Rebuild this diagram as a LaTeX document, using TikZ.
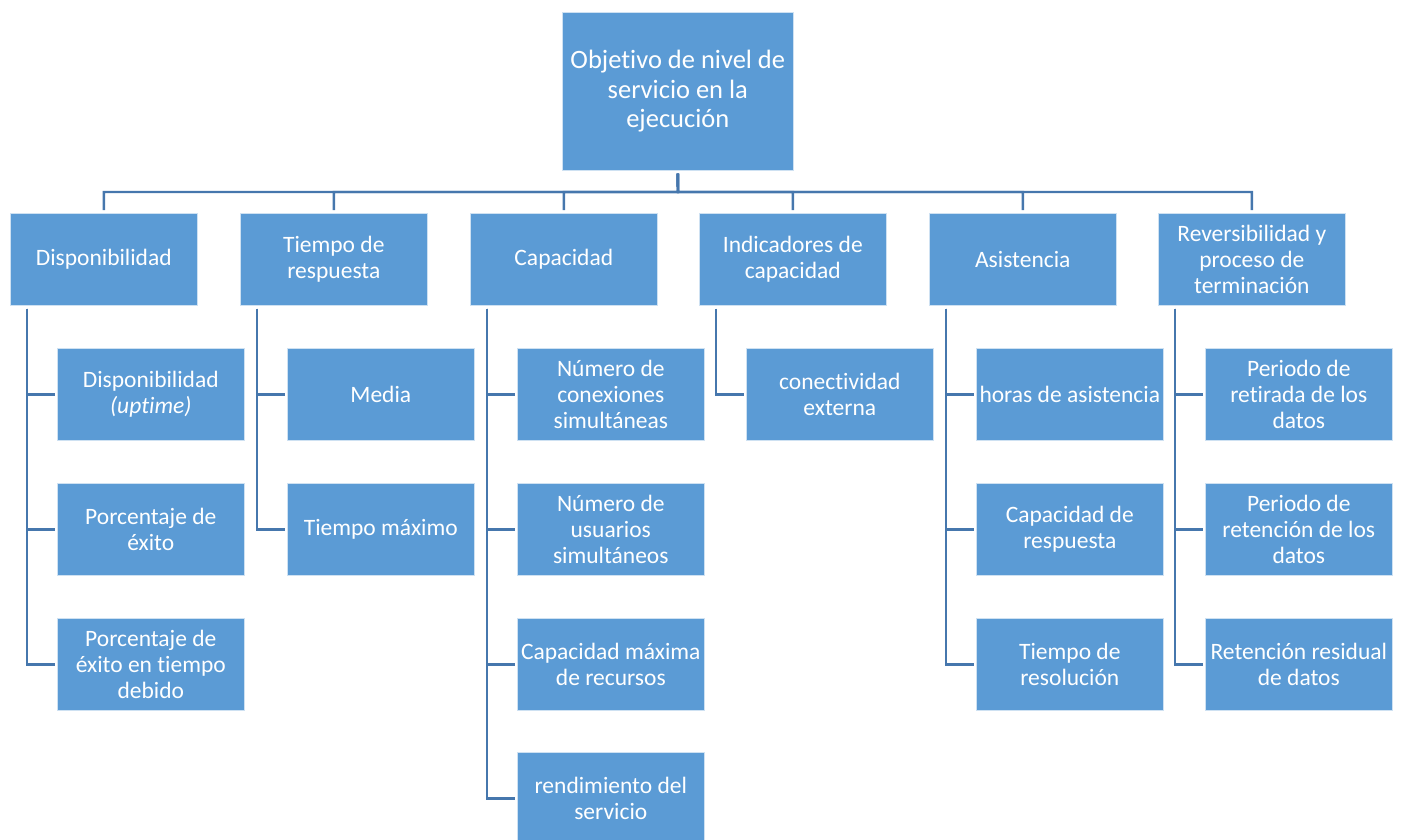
\documentclass[tikz,border=0pt]{standalone}
\usepackage{fontspec}
\setmainfont{Carlito}[RawFeature=-liga]
\definecolor{boxblue}{HTML}{5B9BD5}
\definecolor{linkblue}{HTML}{4677AD}
\begin{document}
\begin{tikzpicture}[x=1pt,y=-1pt,
  box/.style={fill=boxblue,draw=white!70!boxblue,line width=0.6pt,text=white,align=center,
    minimum width=187pt,minimum height=92pt,inner sep=0pt,anchor=north west,
    font=\fontsize{23.5}{26}\selectfont},
  topbox/.style={box,minimum width=231pt,minimum height=158pt,font=\fontsize{26.5}{29.5}\selectfont},
  link/.style={draw=linkblue,line width=2.4pt}]
\useasboundingbox (0,0) rectangle (1405,840);
% top
\node[topbox] (top) at (562,12) {Objetivo de nivel de\\servicio en la\\ejecución};
% level 1
\node[box] (a) at (10,213) {Disponibilidad};
\node[box] (b) at (240,213) {Tiempo de\\respuesta};
\node[box] (c) at (470,213) {Capacidad};
\node[box] (d) at (699,213) {Indicadores de\\capacidad};
\node[box] (e) at (929,213) {Asistencia};
\node[box] (f) at (1158,213) {Reversibilidad y\\proceso de\\terminación};
% children
\node[box] (a1) at (57,348) {Disponibilidad\\\textit{(uptime)}};
\node[box] (a2) at (57,483) {Porcentaje de\\éxito};
\node[box] (a3) at (57,618) {Porcentaje de\\éxito en tiempo\\debido};
\node[box] (b1) at (287,348) {Media};
\node[box] (b2) at (287,483) {Tiempo máximo};
\node[box] (c1) at (517,348) {Número de\\conexiones\\simultáneas};
\node[box] (c2) at (517,483) {Número de\\usuarios\\simultáneos};
\node[box] (c3) at (517,618) {Capacidad máxima\\de recursos};
\node[box] (c4) at (517,752) {rendimiento del\\servicio};
\node[box] (d1) at (746,348) {conectividad\\externa};
\node[box] (e1) at (976,348) {horas de asistencia};
\node[box] (e2) at (976,483) {Capacidad de\\respuesta};
\node[box] (e3) at (976,618) {Tiempo de\\resolución};
\node[box] (f1) at (1205,348) {Periodo de\\retirada de los\\datos};
\node[box] (f2) at (1205,483) {Periodo de\\retención de los\\datos};
\node[box] (f3) at (1205,618) {Retención residual\\de datos};
% connectors level 1
\coordinate (bus) at (678,192);
\foreach \n in {a,b,c,d,e,f}{
  \draw[link] ([yshift=-3pt]top.south) -- (bus) -| ([yshift=3pt]\n.north);
}
% connectors children
\foreach \p/\kids in {a/{a1,a2,a3},b/{b1,b2},c/{c1,c2,c3,c4},d/{d1},e/{e1,e2,e3},f/{f1,f2,f3}}{
  \foreach \k in \kids {
    \draw[link] ([xshift=17pt,yshift=-3pt]\p.south west) |- ([xshift=-2pt]\k.west);
  }
}
\end{tikzpicture}
\end{document}
